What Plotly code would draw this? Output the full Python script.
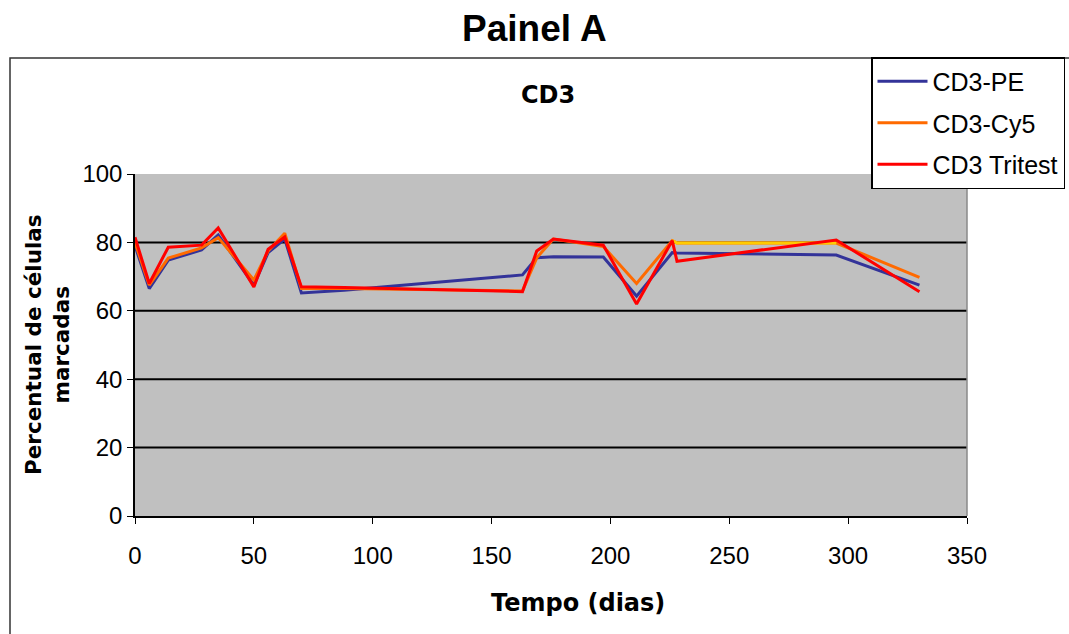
import plotly.graph_objects as go

days = [0, 6, 14, 28, 35, 50, 56, 63, 70, 88, 163, 169, 176, 197, 211, 226, 228, 295, 330]
cd3_pe = [79, 66.5, 74.8, 77.8, 82.2, 67.5, 77, 81, 65.2, 66, 70.5, 75.5, 75.8, 75.7, 64.3, 77, 76.9, 76.3, 67.5]
cd3_cy5 = [80, 67.5, 75.4, 78.4, 81.4, 69, 77.5, 82.7, 66.5, 66.5, 65.8, 75.5, 81, 78.8, 68, 80.5, 79.8, 79.8, 69.8]
cd3_tritest = [81.5, 68, 78.6, 79.2, 84.2, 67, 78, 81.6, 67, 66.8, 65.6, 77.5, 81, 79.2, 62, 80.5, 74.5, 80.7, 65.6]

series_names = ["CD3-PE", "CD3-Cy5", "CD3 Tritest"]
series_colors = ["#333399", "#FF6A00", "#FF0000"]
grid_values = [20, 40, 60, 80]
x_ticks = [0, 50, 100, 150, 200, 250, 300, 350]
y_ticks = [0, 20, 40, 60, 80, 100]

fig = go.Figure()
for name, vals, col in zip(series_names, [cd3_pe, cd3_cy5, cd3_tritest], series_colors):
    fig.add_trace(go.Scatter(x=days, y=vals, mode="lines", name=name,
                             legendgroup=name,
                             line=dict(color=col, width=3)))
    if name == "CD3-Cy5":
        i0, i1 = days.index(226), days.index(295)
        fig.add_trace(go.Scatter(x=days[i0:i1 + 1], y=vals[i0:i1 + 1], mode="lines",
                                 legendgroup=name, showlegend=False, hoverinfo="skip",
                                 line=dict(color="#FFCC00", width=3)))

shapes = []
for g in grid_values:
    shapes.append(dict(type="line", xref="paper", yref="y", x0=0, x1=1, y0=g, y1=g,
                       line=dict(color="#000000", width=2), layer="below"))
# right border of plot area
shapes.append(dict(type="line", xref="paper", yref="paper", x0=1, x1=1, y0=0, y1=1,
                   line=dict(color="#8a8a8a", width=1.5), layer="below"))
# outer chart frame
shapes.append(dict(type="rect", xref="paper", yref="paper",
                   x0=(10 - 135) / 832, x1=1.3, y0=-0.5, y1=(516 - 58) / 342,
                   line=dict(color="#333333", width=1.5), layer="below"))

fig.update_layout(
    width=1069, height=634,
    margin=dict(l=135, r=102, t=174, b=118, autoexpand=False),
    paper_bgcolor="#FFFFFF",
    plot_bgcolor="#C0C0C0",
    font=dict(family="Liberation Sans, Arial, sans-serif", color="#000000"),
    shapes=shapes,
    showlegend=True,
    legend=dict(x=(871 - 135) / 832, y=(516 - 57) / 342, xanchor="left", yanchor="top",
                bgcolor="#FFFFFF", bordercolor="#000000", borderwidth=1.5,
                font=dict(size=25, color="#000000"), tracegroupgap=6,
                itemwidth=50, traceorder="grouped"),
    xaxis=dict(range=[0, 350], tickvals=x_ticks, showgrid=False, zeroline=False,
               showline=True, linecolor="#000000", linewidth=1.5,
               ticks="outside", ticklen=6, tickcolor="#000000",
               tickfont=dict(size=24), ticklabelstandoff=11),
    yaxis=dict(range=[0, 100], tickvals=y_ticks, showgrid=False, zeroline=False,
               showline=True, linecolor="#000000", linewidth=1.5,
               ticks="outside", ticklen=6, tickcolor="#000000",
               tickfont=dict(size=24)),
    annotations=[
        dict(text="<b>Painel A</b>", xref="paper", yref="paper",
             x=(534 - 135) / 832, y=(516 - 28) / 342, xanchor="center", yanchor="middle",
             showarrow=False, font=dict(size=37)),
        dict(text="<b>CD3</b>", xref="paper", yref="paper",
             x=(548 - 135) / 832, y=(516 - 95) / 342, xanchor="center", yanchor="middle",
             showarrow=False, font=dict(size=24, family="DejaVu Sans")),
        dict(text="<b>Tempo (dias)</b>", xref="paper", yref="paper",
             x=(578 - 135) / 832, y=(516 - 603) / 342, xanchor="center", yanchor="middle",
             showarrow=False, font=dict(size=24, family="DejaVu Sans")),
        dict(text="<b>Percentual de células<br>marcadas</b>", xref="paper", yref="paper",
             x=(47 - 135) / 832, y=0.5, xanchor="center", yanchor="middle",
             textangle=-90, showarrow=False, font=dict(size=21.5, family="DejaVu Sans")),
    ],
)

fig.write_html("out.html")
